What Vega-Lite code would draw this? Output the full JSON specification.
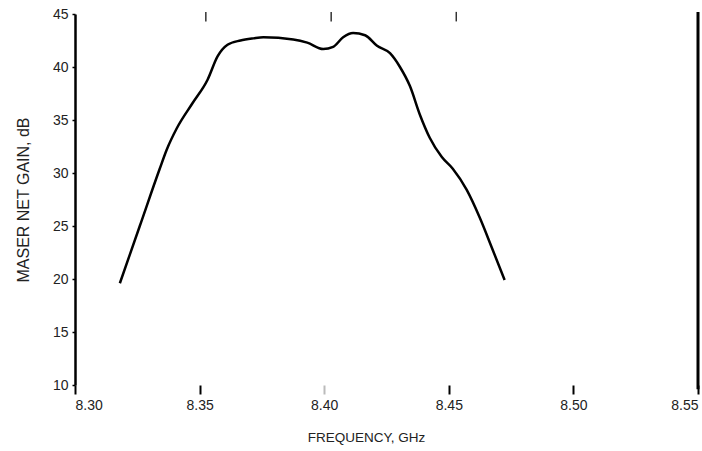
{
  "$schema": "https://vega.github.io/schema/vega-lite/v6.json",
  "autosize": "none",
  "width": 623,
  "height": 371,
  "padding": {"left": 75, "top": 14, "right": 4, "bottom": 66},
  "background": "white",
  "config": {
    "view": {"stroke": null},
    "font": "Liberation Sans, sans-serif"
  },
  "datasets": {
    "gain": [
      {"f": 8.318, "g": 19.6},
      {"f": 8.326, "g": 25.0},
      {"f": 8.334, "g": 30.4},
      {"f": 8.3368, "g": 32.2},
      {"f": 8.3408, "g": 34.2},
      {"f": 8.3472, "g": 36.6},
      {"f": 8.3532, "g": 38.8},
      {"f": 8.3572, "g": 41.0},
      {"f": 8.3612, "g": 42.1},
      {"f": 8.3664, "g": 42.5},
      {"f": 8.3716, "g": 42.7},
      {"f": 8.3756, "g": 42.8},
      {"f": 8.3876, "g": 42.6},
      {"f": 8.3932, "g": 42.3},
      {"f": 8.3996, "g": 41.7},
      {"f": 8.4036, "g": 41.9},
      {"f": 8.4076, "g": 42.8},
      {"f": 8.4116, "g": 43.2},
      {"f": 8.4164, "g": 43.0},
      {"f": 8.4212, "g": 42.0},
      {"f": 8.4264, "g": 41.3},
      {"f": 8.4304, "g": 40.0},
      {"f": 8.4344, "g": 38.2},
      {"f": 8.4384, "g": 35.5},
      {"f": 8.4424, "g": 33.3},
      {"f": 8.4472, "g": 31.5},
      {"f": 8.4516, "g": 30.4},
      {"f": 8.4572, "g": 28.4},
      {"f": 8.4624, "g": 25.8},
      {"f": 8.4672, "g": 23.0},
      {"f": 8.4724, "g": 19.9}
    ]
  },
  "layer": [
    {
      "data": {"name": "gain"},
      "mark": {"type": "line", "color": "black", "strokeWidth": 2.5, "interpolate": "monotone"},
      "encoding": {
        "x": {
          "field": "f", "type": "quantitative",
          "scale": {"domain": [8.3, 8.55], "nice": false, "zero": false},
          "axis": {
            "orient": "bottom",
            "values": [8.3, 8.35, 8.4, 8.45, 8.5, 8.55],
            "format": ".2f",
            "domain": false,
            "grid": false,
            "ticks": true,
            "tickSize": 9,
            "tickWidth": 2,
            "tickColor": {"condition": {"test": "datum.value == 8.4", "value": "#bbbbbb"}, "value": "black"},
            "labelFlush": true,
            "labelFontSize": 14,
            "labelColor": "#222",
            "labelPadding": 4,
            "title": "FREQUENCY, GHz",
            "titleFontSize": 13.5,
            "titleFontWeight": "normal",
            "titleColor": "#222",
            "titlePadding": 18,
            "titleX": 291,
            "titleAnchor": "start",
            "titleAlign": "center"
          }
        },
        "y": {
          "field": "g", "type": "quantitative",
          "scale": {"domain": [10, 45], "nice": false, "zero": false},
          "axis": {
            "values": [10, 15, 20, 25, 30, 35, 40, 45],
            "domain": true,
            "domainColor": "black",
            "domainWidth": 2.5,
            "grid": false,
            "tickSize": 3,
            "tickColor": "black",
            "tickWidth": 1.5,
            "labelFontSize": 14,
            "labelColor": "#222",
            "labelPadding": 4,
            "title": "MASER NET GAIN, dB",
            "titleFontSize": 16,
            "titleFontWeight": "normal",
            "titleColor": "#222",
            "titlePadding": 21
          }
        }
      }
    },
    {
      "data": {"values": [{"f": 8.55}]},
      "mark": {"type": "rule", "color": "black", "strokeWidth": 3},
      "encoding": {
        "x": {"field": "f", "type": "quantitative"},
        "y": {"datum": 45.2},
        "y2": {"datum": 9.6}
      }
    },
    {
      "data": {"values": [{"f": 8.3525}, {"f": 8.4028}, {"f": 8.453}]},
      "mark": {"type": "rule", "color": "#333", "strokeWidth": 1.5},
      "encoding": {
        "x": {"field": "f", "type": "quantitative"},
        "y": {"datum": 45.2},
        "y2": {"datum": 44.3}
      }
    }
  ]
}
